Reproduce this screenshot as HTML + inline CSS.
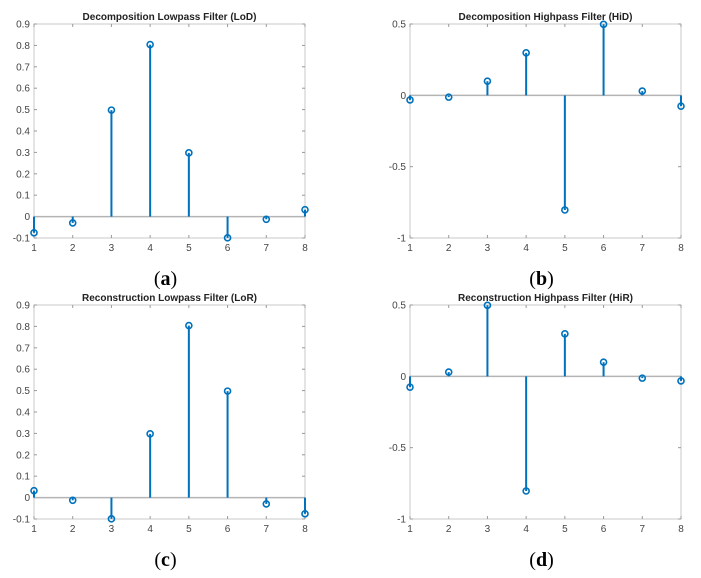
<!DOCTYPE html>
<html><head><meta charset="utf-8"><style>
body{margin:0;background:#fff;width:701px;height:578px;overflow:hidden}
svg{display:block}
</style></head><body>
<svg id="s" width="701" height="578" xmlns="http://www.w3.org/2000/svg" font-family="Liberation Sans, sans-serif"></svg>
<script>
const s=document.getElementById('s');
let h='';
const LoD=[-0.0758,-0.0296,0.4976,0.8037,0.2979,-0.0992,-0.0126,0.0322];
const HiD=[-0.0322,-0.0126,0.0992,0.2979,-0.8037,0.4976,0.0296,-0.0758];
const LoR=LoD.slice().reverse(), HiR=HiD.slice().reverse();
function plot(L,T,title,data,ymin,ymax,ticks,fmt,cap){
 const W=271,H=214;
 const X=i=>L+(i-1)*W/7, Y=v=>T+H*(ymax-v)/(ymax-ymin);
 h+=`<rect x="${L}" y="${T}" width="${W}" height="${H}" fill="none" stroke="#c8c8c8" stroke-width="1"/>`;
 for(let i=1;i<=8;i++){h+=`<line x1="${X(i)}" y1="${T+H}" x2="${X(i)}" y2="${T+H-3}" stroke="#999"/><line x1="${X(i)}" y1="${T}" x2="${X(i)}" y2="${T+3}" stroke="#999"/><text x="${X(i)}" y="${T+H+13}" font-size="10" fill="#444" text-anchor="middle">${i}</text>`;}
 for(const t of ticks){h+=`<line x1="${L}" y1="${Y(t)}" x2="${L+3}" y2="${Y(t)}" stroke="#999"/><line x1="${L+W}" y1="${Y(t)}" x2="${L+W-3}" y2="${Y(t)}" stroke="#999"/><text x="${L-4}" y="${Y(t)+3.5}" font-size="10" fill="#444" text-anchor="end">${fmt(t)}</text>`;}
 h+=`<line x1="${L}" y1="${Y(0)}" x2="${L+W}" y2="${Y(0)}" stroke="#b4b4b4" stroke-width="1.5"/>`;
 h+=`<text x="${L+W/2}" y="${T-4}" font-size="10" font-weight="bold" fill="#222" text-anchor="middle">${title}</text>`;
 data.forEach((v,k)=>{const x=X(k+1);h+=`<line x1="${x}" y1="${Y(0)}" x2="${x}" y2="${Y(v)}" stroke="#0072BD" stroke-width="2"/><circle cx="${x}" cy="${Y(v)}" r="3" fill="none" stroke="#0072BD" stroke-width="1.6"/>`;});
 h+=`<text x="${L+W/2-4}" y="${T+H+47}" font-size="20" font-family="Liberation Serif, serif" text-anchor="middle" fill="#000">(<tspan font-weight="bold">${cap}</tspan>)</text>`;
}
const lt=[-0.1,0,0.1,0.2,0.3,0.4,0.5,0.6,0.7,0.8,0.9], ht=[-1,-0.5,0,0.5];
const lf=t=>Math.abs(t)<1e-9?'0':t.toFixed(1), hf=t=>t===0?'0':String(t);
plot(34,24,'Decomposition Lowpass Filter (LoD)',LoD,-0.1,0.9,lt,lf,'a');
plot(410,24,'Decomposition Highpass Filter (HiD)',HiD,-1,0.5,ht,hf,'b');
plot(34,305,'Reconstruction Lowpass Filter (LoR)',LoR,-0.1,0.9,lt,lf,'c');
plot(410,305,'Reconstruction Highpass Filter (HiR)',HiR,-1,0.5,ht,hf,'d');
s.innerHTML=h;
</script>
</body></html>
